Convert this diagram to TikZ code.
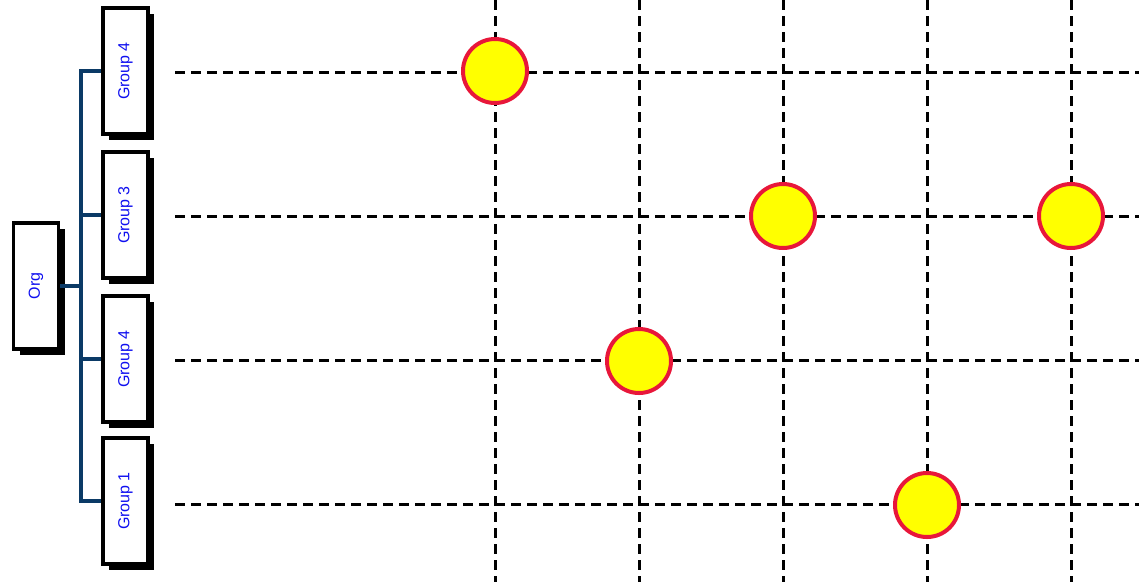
\documentclass[tikz,border=0pt]{standalone}
\usepackage{fontspec}
\setmainfont{Liberation Sans}
\usetikzlibrary{shadows}
\definecolor{treeblue}{HTML}{0B3A66}
\definecolor{labelblue}{HTML}{1010F0}
\definecolor{ringred}{HTML}{E8173A}
\definecolor{dotyellow}{RGB}{255,255,0}
\tikzset{
  box/.style={draw=black, line width=3.1pt, fill=white, minimum width=45pt, minimum height=126pt, inner sep=0pt,
    text=labelblue, font=\fontsize{16}{19}\selectfont,
    drop shadow={shadow xshift=6pt, shadow yshift=-6pt, fill=black, opacity=1}},
  grid/.style={black, line width=3pt, dash pattern=on 10pt off 6pt},
  tree/.style={treeblue, line width=3.1pt},
  dot/.style={circle, draw=ringred, fill=dotyellow, line width=4pt, minimum size=64pt, inner sep=0pt}
}
\begin{document}
\begin{tikzpicture}[x=1pt,y=-1pt]
\useasboundingbox (0,0) rectangle (1139,582);
% grid
\foreach \y in {72,216,360,504} \draw[grid] (175,\y) -- (1139,\y);
\foreach \x in {495,639,783,927,1071} \draw[grid] (\x,0) -- (\x,582);
% boxes
\node[box] (org) at (36,286) {\rotatebox{90}{Org}};
\node[box] (g4a) at (125.5,71) {\rotatebox{90}{Group 4}};
\node[box] (g3) at (125.5,215) {\rotatebox{90}{Group 3}};
\node[box] (g4b) at (125.5,359) {\rotatebox{90}{Group 4}};
\node[box] (g1) at (125.5,501) {\rotatebox{90}{Group 1}};
% tree
\coordinate (j) at (81,286);
\draw[tree] (org.east) -- (j);
\draw[tree] (g4a.west) -| (j) |- (g1.west);
\draw[tree] (g3.west) -- (g3.west -| j);
\draw[tree] (g4b.west) -- (g4b.west -| j);
% dots
\node[dot] (d1) at (495,71) {};
\node[dot] (d2) at (783,216) {};
\node[dot] (d3) at (1071,216) {};
\node[dot] (d4) at (639,361) {};
\node[dot] (d5) at (927,505) {};
\end{tikzpicture}
\end{document}
